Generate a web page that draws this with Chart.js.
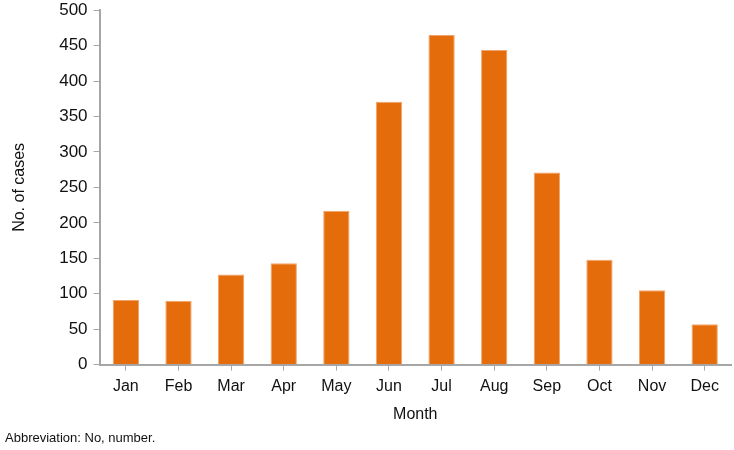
<!DOCTYPE html>
<html>
<head>
<meta charset="utf-8">
<script src="https://cdn.jsdelivr.net/npm/chart.js@4/dist/chart.umd.min.js"></script>
<style>
  body { margin: 0; background: #fff; }
  #wrap { position: relative; width: 734px; height: 450px; overflow: hidden; }
  #bar-chart { position: absolute; left: 0; top: -6px; }
  #note {
    position: absolute; left: 5px; top: 430px;
    font-family: 'Liberation Sans', Arial, sans-serif; font-size: 13px; color: #111;
  }
</style>
</head>
<body>
<div id="wrap">
  <canvas id="bar-chart" width="734" height="459"></canvas>
  <div id="note">Abbreviation: No, number.</div>
</div>
<script>
// chart data
const months = ['Jan', 'Feb', 'Mar', 'Apr', 'May', 'Jun', 'Jul', 'Aug', 'Sep', 'Oct', 'Nov', 'Dec'];
const cases = [91, 90, 127, 143, 217, 371, 465, 444, 271, 148, 105, 57];
const yTicks = [0, 50, 100, 150, 200, 250, 300, 350, 400, 450, 500];

const font = { family: "'Liberation Sans', Arial, sans-serif", size: 16 };
const tickFont = { family: "'Liberation Sans', Arial, sans-serif", size: 17 };

new Chart(document.getElementById('bar-chart'), {
  type: 'bar',
  data: {
    labels: months,
    datasets: [
      {
        label: 'No. of cases',
        data: cases,
        backgroundColor: '#E46C0A',
        borderColor: '#F2A46A',
        borderWidth: 1,
        barPercentage: 0.5,
        categoryPercentage: 1.0
      }
    ]
  },
  options: {
    responsive: false,
    animation: false,
    layout: { padding: { top: 0, right: 3, bottom: 29, left: 10 } },
    plugins: {
      legend: { display: false },
      tooltip: { enabled: false }
    },
    scales: {
      x: {
        grid: { display: true, drawOnChartArea: false, offset: false, tickLength: 6, color: '#a6a6a6', lineWidth: 1 },
        border: { color: '#a6a6a6', width: 2 },
        ticks: { color: '#111', font: font, padding: 6, maxRotation: 0 },
        title: { display: true, text: 'Month', color: '#111', font: font, padding: { top: 3, bottom: 0 } }
      },
      y: {
        min: 0,
        max: 500,
        afterBuildTicks: (axis) => { axis.ticks = yTicks.map((v) => ({ value: v })); },
        grid: { display: true, drawOnChartArea: false, tickLength: 6, color: '#a6a6a6', lineWidth: 1 },
        border: { color: '#a6a6a6', width: 2 },
        ticks: { color: '#111', font: tickFont, padding: 6 },
        title: { display: true, text: 'No. of cases', color: '#111', font: font, padding: { top: 0, bottom: 24 } }
      }
    }
  }
});
</script>
</body>
</html>
